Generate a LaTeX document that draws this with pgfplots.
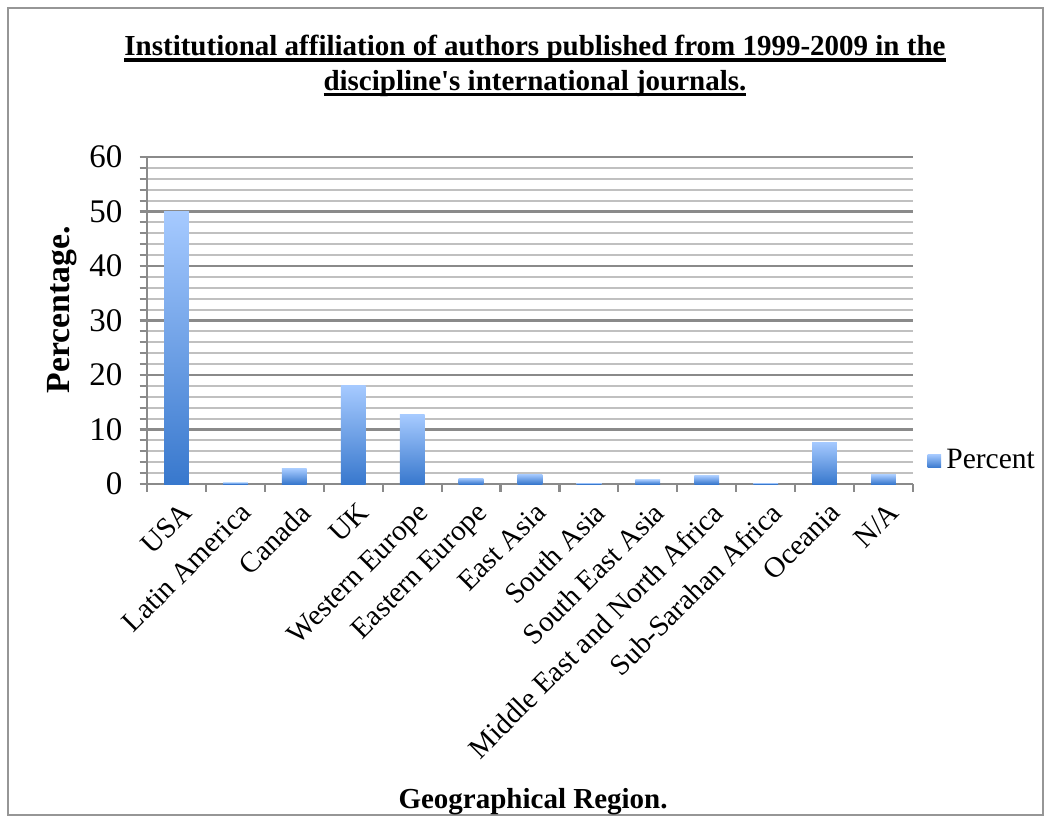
\documentclass[border=0pt]{standalone}
\usepackage{fontspec}
\setmainfont{Liberation Serif}
\usepackage{pgfplots}
\pgfplotsset{compat=1.18}

\definecolor{barlight}{RGB}{166,202,255}
\definecolor{bardark}{RGB}{56,120,205}
\definecolor{gridmaj}{RGB}{138,138,138}
\definecolor{gridmin}{RGB}{192,192,192}
\definecolor{framec}{RGB}{150,150,150}

% heavy underline close to the baseline
\newcommand\thickul[1]{\setbox0\hbox{#1}\rlap{\rule[-2.2pt]{\wd0}{1.3pt}}\box0}

\pgfplotsset{regionbar/.style={ybar, bar width=0.33cm, draw=none,
  top color=barlight, bottom color=bardark}}

\begin{document}
\begin{tikzpicture}
\path[use as bounding box] (0,0) rectangle (14.013,-10.92);
\draw[framec, line width=0.8pt] (0.107,-0.107) rectangle (13.907,-10.867);

\node[font=\bfseries\fontsize{11}{13.2}\selectfont, align=center] at (7.133,-0.88)
  {\thickul{Institutional affiliation of authors published from 1999-2009 in the}\\
   \thickul{discipline\textquotesingle s international journals.}};

\begin{axis}[
  scale only axis, width=10.213cm, height=4.36cm,
  at={(1.96cm,-6.4533cm)}, anchor=south west,
  xmin=-0.5, xmax=12.5, ymin=0, ymax=60,
  ytick={0,10,...,60}, minor y tick num=4,
  xtick={-0.5,0.5,...,12.5}, xticklabels={},
  extra x ticks={0,1,...,12},
  extra x tick labels={USA,Latin America,Canada,UK,Western Europe,Eastern Europe,East Asia,South Asia,South East Asia,Middle East and North Africa,Sub-Sarahan Africa,Oceania,N/A},
  extra x tick style={major tick length=0pt, grid=none},
  x tick label style={rotate=45, anchor=north east, yshift=-2pt, font=\fontsize{11}{13}\selectfont},
  y tick label style={xshift=-3pt, font=\fontsize{12.5}{14}\selectfont},
  /pgf/number format/assume math mode=true,
  axis x line*=bottom, axis y line*=left,
  axis line style={gridmaj, -, line width=0.8pt},
  tick align=outside, major tick length=0.1cm, minor tick length=0.1cm,
  tick style={gridmaj, line width=0.8pt},
  ymajorgrids, yminorgrids,
  major grid style={gridmaj, line width=0.8pt},
  minor grid style={gridmin, line width=0.7pt},
  legend style={at={(1.008,0.07)}, anchor=west, draw=none, fill=none,
                font=\fontsize{11.2}{13}\selectfont},
  legend image code/.code={\fill[top color=barlight, bottom color=bardark]
      (0cm,-0.09cm) rectangle (0.18cm,0.09cm);},
]
% one plot per bar so each bar gets its own gradient
\addplot[regionbar] coordinates {(0,50.0)};
\addlegendentry{Percent}
\addplot[regionbar, forget plot] coordinates {(1,0.3)};
\addplot[regionbar, forget plot] coordinates {(2,2.8)};
\addplot[regionbar, forget plot] coordinates {(3,18.1)};
\addplot[regionbar, forget plot] coordinates {(4,12.7)};
\addplot[regionbar, forget plot] coordinates {(5,1.1)};
\addplot[regionbar, forget plot] coordinates {(6,1.8)};
\addplot[regionbar, forget plot] coordinates {(7,0.2)};
\addplot[regionbar, forget plot] coordinates {(8,0.8)};
\addplot[regionbar, forget plot] coordinates {(9,1.5)};
\addplot[regionbar, forget plot] coordinates {(10,0.2)};
\addplot[regionbar, forget plot] coordinates {(11,7.7)};
\addplot[regionbar, forget plot] coordinates {(12,1.7)};
\end{axis}

\node[font=\bfseries\fontsize{12.8}{15}\selectfont, rotate=90] at (0.83,-4.133) {Percentage.};
\node[font=\bfseries\fontsize{11}{13}\selectfont] at (7.107,-10.69) {Geographical Region.};
\end{tikzpicture}
\end{document}
